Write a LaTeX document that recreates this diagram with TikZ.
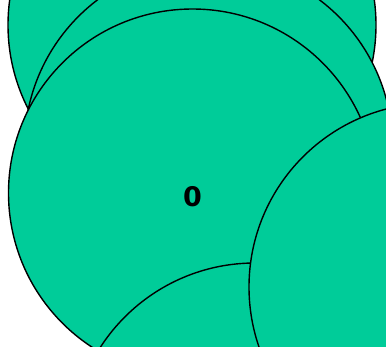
\documentclass[tikz,border=0pt]{standalone}
\usepackage{fontspec}
\setsansfont{DejaVu Sans}
\usepackage{xcolor}
\usepackage{tikz}
\definecolor{bubblegreen}{HTML}{00CC99}
\tikzset{
  bubblenode/.style={circle,draw=black,fill=bubblegreen,line width=1.4pt,
    minimum size=368pt,inner sep=0pt,outer sep=0pt,
    font=\sffamily\bfseries\fontsize{27}{27}\selectfont}
}

\begin{document}
\begin{tikzpicture}[x=1pt,y=-1pt]
  \useasboundingbox (0,0) rectangle (386,346);
  \begin{scope}
    \clip (0,0) rectangle (386,346);
    \node[bubblenode] (c4) at (192,25) {};
    \node[bubblenode] (c3) at (208.5,146.6) {};
    \node[bubblenode,text height=27pt,text depth=0pt] (c0) at (192.5,193) {0};
    \node[bubblenode] (c2) at (255,447) {};
    \node[bubblenode] (c1) at (433,287) {};
  \end{scope}
\end{tikzpicture}
\end{document}
